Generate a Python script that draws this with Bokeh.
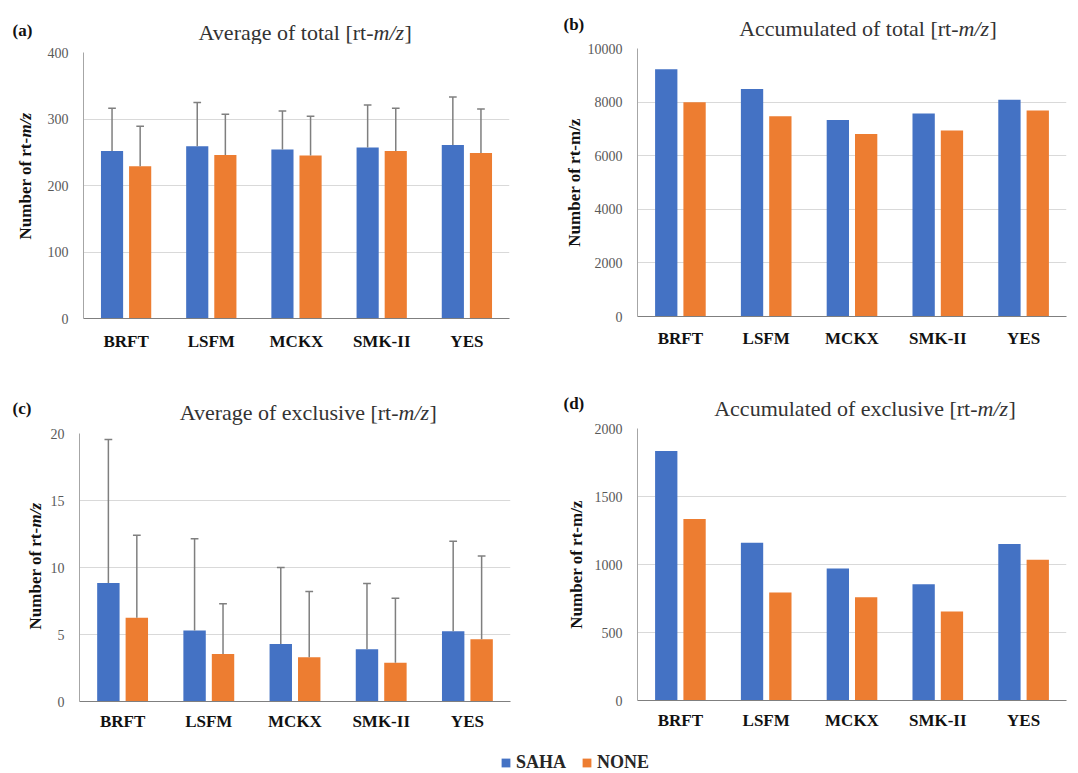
import math
from bokeh.plotting import figure
from bokeh.models import (FactorRange, Range1d, Legend, LegendItem,
                          ColumnDataSource, FixedTicker)
from bokeh.transform import dodge
from bokeh.layouts import column, row
from bokeh.embed import file_html
from bokeh.resources import INLINE
from bokeh.core.properties import value

# ---------------- data ----------------
categories = ["BRFT", "LSFM", "MCKX", "SMK-II", "YES"]
series_names = ["SAHA", "NONE"]

# (a) average of total rt-m/z (mean and standard deviation)
avg_total_saha = [252, 259, 254, 257, 261]
avg_total_saha_sd = [64, 66, 58, 64, 72]
avg_total_none = [229, 246, 245, 252, 249]
avg_total_none_sd = [60, 61, 59, 64, 66]

# (b) accumulated of total rt-m/z
acc_total_saha = [9230, 8490, 7330, 7570, 8090]
acc_total_none = [7990, 7470, 6810, 6940, 7690]

# (c) average of exclusive rt-m/z (mean and standard deviation)
avg_excl_saha = [8.85, 5.3, 4.3, 3.9, 5.25]
avg_excl_saha_sd = [10.7, 6.85, 5.7, 4.9, 6.7]
avg_excl_none = [6.25, 3.55, 3.3, 2.9, 4.65]
avg_excl_none_sd = [6.15, 3.75, 4.9, 4.8, 6.2]

# (d) accumulated of exclusive rt-m/z
acc_excl_saha = [1835, 1160, 970, 855, 1150]
acc_excl_none = [1335, 795, 760, 655, 1035]

y_ticks_a = [0, 100, 200, 300, 400]
y_ticks_b = [0, 2000, 4000, 6000, 8000, 10000]
y_ticks_c = [0, 5, 10, 15, 20]
y_ticks_d = [0, 500, 1000, 1500, 2000]

# ---------------- style ----------------
BLUE = "#4472C4"
ORANGE = "#ED7D31"
SERIF = "Liberation Serif"
OFF = 0.165
BW = 0.26
CAP = 0.045
YLAB_W = 44


def strip(w, h):
    s = figure(width=w, height=h, x_range=Range1d(0, w), y_range=Range1d(0, h),
               min_border=0, toolbar_location=None, output_backend="svg",
               outline_line_color=None, x_axis_type=None, y_axis_type=None,
               title=None, background_fill_color="white", border_fill_color="white",
               frame_align=False)
    s.grid.visible = False
    return s


def make_panel(w, strip_h, lower_h, left, right, bottom, ticks, saha, none,
               saha_sd, none_sd, letter, title_text, title_pos, letter_pos,
               ylab_pos, x_standoff, ylab_standoff):
    # ---- title strip ----
    ts = strip(w, strip_h)
    tx, ty = title_pos
    tcommon = dict(text_font=value(SERIF), text_font_size="22px",
                   text_color="#333333", text_baseline="middle")
    ts.text(x=[tx], y=[ty], text=[title_text], text_align="right", **tcommon)
    ts.text(x=[tx], y=[ty], text=["m/z"], text_align="left",
            text_font_style="italic", **tcommon)
    ts.text(x=[tx + 31], y=[ty], text=["]"], text_align="left", **tcommon)
    lx, ly = letter_pos
    ts.text(x=[lx], y=[ly], text=[letter], text_font=value(SERIF),
            text_font_size="17px", text_font_style="bold", text_color="#111111",
            text_align="left", text_baseline="middle")

    # ---- plot ----
    plot_w = w - YLAB_W if ylab_pos is not None else w
    p = figure(x_range=FactorRange(*categories, range_padding=0),
               y_range=Range1d(ticks[0], ticks[-1]),
               width=plot_w, height=lower_h,
               min_border_left=left, min_border_right=right,
               min_border_top=8, min_border_bottom=bottom,
               output_backend="svg", toolbar_location=None, title=None,
               outline_line_color=None, background_fill_color="white",
               border_fill_color="white", frame_align=False)
    data = dict(cat=categories, saha=saha, none=none)
    if saha_sd is not None:
        data["saha_hi"] = [m + s for m, s in zip(saha, saha_sd)]
        data["none_hi"] = [m + s for m, s in zip(none, none_sd)]
    src = ColumnDataSource(data)
    p.vbar(x=dodge("cat", -OFF, range=p.x_range), top="saha", width=BW,
           source=src, fill_color=BLUE, line_color=None)
    p.vbar(x=dodge("cat", OFF, range=p.x_range), top="none", width=BW,
           source=src, fill_color=ORANGE, line_color=None)
    if saha_sd is not None:
        for off, lo, hi in ((-OFF, "saha", "saha_hi"), (OFF, "none", "none_hi")):
            p.segment(x0=dodge("cat", off, range=p.x_range), y0=lo,
                      x1=dodge("cat", off, range=p.x_range), y1=hi,
                      source=src, line_color="#7F7F7F", line_width=1.5)
            p.segment(x0=dodge("cat", off - CAP, range=p.x_range), y0=hi,
                      x1=dodge("cat", off + CAP, range=p.x_range), y1=hi,
                      source=src, line_color="#7F7F7F", line_width=1.5)

    p.xgrid.grid_line_color = None
    p.ygrid.grid_line_color = "#D9D9D9"
    p.ygrid.grid_line_width = 1
    p.yaxis.ticker = FixedTicker(ticks=ticks)
    p.yaxis.major_tick_line_color = None
    p.yaxis.minor_tick_line_color = None
    p.yaxis.axis_line_color = "#A6A6A6"
    p.yaxis.major_label_text_font = SERIF
    p.yaxis.major_label_text_font_size = "14px"
    p.yaxis.major_label_text_color = "#595959"
    p.yaxis.major_label_standoff = 9
    p.xaxis.major_tick_line_color = None
    p.xaxis.minor_tick_line_color = None
    p.xaxis.axis_line_color = "#7F7F7F"
    p.xaxis.axis_line_width = 1.2
    p.xaxis.major_label_text_font = SERIF
    p.xaxis.major_label_text_font_style = "bold"
    p.xaxis.major_label_text_font_size = "17px"
    p.xaxis.major_label_text_color = "#111111"
    p.xaxis.major_label_standoff = x_standoff

    if ylab_pos is None:
        # plain upright label: the axis' own label
        p.yaxis.axis_label = "Number of rt-m/z"
        p.yaxis.axis_label_text_font = SERIF
        p.yaxis.axis_label_text_font_style = "bold"
        p.yaxis.axis_label_text_font_size = "17px"
        p.yaxis.axis_label_text_color = "#111111"
        p.yaxis.axis_label_standoff = ylab_standoff
        return column(ts, p)

    # label with italic m/z, drawn in a narrow strip at the left
    ys = strip(YLAB_W, lower_h)
    yx, yy = ylab_pos
    ycommon = dict(text_font=value(SERIF), text_font_size="17px",
                   text_color="#111111", text_baseline="middle", angle=math.pi / 2)
    ys.text(x=[yx], y=[yy], text=["Number of rt-"], text_align="right",
            text_font_style="bold", **ycommon)
    ys.text(x=[yx], y=[yy], text=["m/z"], text_align="left",
            text_font_style="bold italic", **ycommon)
    return column(ts, row(ys, p))


pa = make_panel(540, 44, 336, 39, 31, 62, y_ticks_a,
                avg_total_saha, avg_total_none, avg_total_saha_sd, avg_total_none_sd,
                "(a)", "Average of total [rt-", (373, 12.4), (12, 14.3), (25, 243), 7, 0)
pb = make_panel(538, 40, 340, 97, 12, 64, y_ticks_b,
                acc_total_saha, acc_total_none, None, None,
                "(b)", "Accumulated of total [rt-", (418, 12.2), (23, 16), None, 6, 1)
pc = make_panel(540, 45, 311, 35, 30, 35, y_ticks_c,
                avg_excl_saha, avg_excl_none, avg_excl_saha_sd, avg_excl_none_sd,
                "(c)", "Average of exclusive [rt-", (398, 13.1), (12, 16.7), (35, 209), 4, 0)
pd = make_panel(538, 40, 316, 97, 12, 36, y_ticks_d,
                acc_excl_saha, acc_excl_none, None, None,
                "(d)", "Accumulated of exclusive [rt-", (437, 12.2), (23, 16.7), None, 4, 6)

# legend strip (swatch renderers are zero-height bars, invisible themselves)
lp = figure(width=1078, height=36, x_range=Range1d(0, 1), y_range=Range1d(0, 1),
            min_border=0, toolbar_location=None, output_backend="svg", title=None,
            outline_line_color=None, x_axis_type=None, y_axis_type=None,
            frame_align=False)
lp.grid.visible = False
r1 = lp.vbar(x=[0.5], top=[0], bottom=[0], width=0.01, fill_color=BLUE, line_color=None)
r2 = lp.vbar(x=[0.5], top=[0], bottom=[0], width=0.01, fill_color=ORANGE, line_color=None)
legend = Legend(items=[LegendItem(label=series_names[0], renderers=[r1]),
                       LegendItem(label=series_names[1], renderers=[r2])],
                orientation="horizontal", location=(500, -1),
                border_line_color=None, background_fill_alpha=0,
                label_text_font=SERIF, label_text_font_style="bold",
                label_text_font_size="18px", label_text_color="#262626",
                glyph_width=11, glyph_height=11, label_standoff=5, spacing=15,
                padding=0, margin=0)
lp.add_layout(legend)

layout = column(row(pa, pb), row(pc, pd), lp)
open("out.html", "w").write(file_html(layout, INLINE))
